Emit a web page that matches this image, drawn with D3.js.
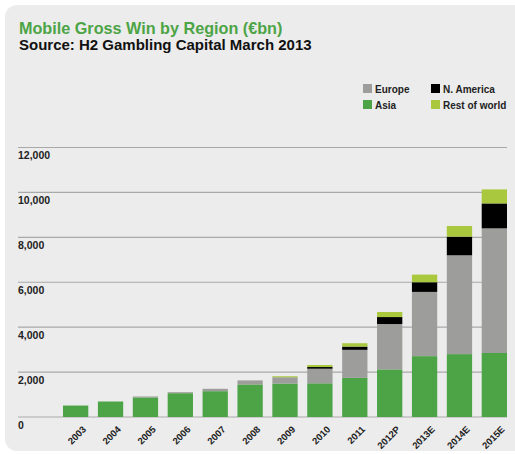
<!DOCTYPE html>
<html>
<head>
<meta charset="utf-8">
<script src="https://cdn.jsdelivr.net/npm/d3@7"></script>
<style>
  body { margin: 0; background: #fff; }
  text { font-family: "Liberation Sans", Arial, sans-serif; font-weight: bold; }
</style>
</head>
<body>
<svg width="515" height="454"></svg>
<script>
  'use strict';

  // data (€m)
  const years = ['2003', '2004', '2005', '2006', '2007', '2008', '2009', '2010', '2011', '2012P', '2013E', '2014E', '2015E'];
  const asia     = [510, 690, 870, 1060, 1150, 1450, 1490, 1500, 1740, 2120, 2710, 2800, 2850];
  const europe   = [0, 0, 45, 45, 105, 180, 280, 650, 1250, 2020, 2860, 4400, 5550];
  const nAmerica = [0, 0, 0, 0, 0, 0, 0, 75, 145, 310, 430, 830, 1110];
  const rest     = [0, 0, 0, 0, 0, 0, 45, 90, 150, 225, 340, 475, 625];
  const yTicks = [0, 2000, 4000, 6000, 8000, 10000, 12000];

  const seriesKeys = ['Asia', 'Europe', 'N. America', 'Rest of world'];
  const colors = {'Asia': '#4ca446', 'Europe': '#9d9d9b', 'N. America': '#000000', 'Rest of world': '#a9c83d'};

  const table = years.map((y, i) => ({
    year: y, 'Asia': asia[i], 'Europe': europe[i], 'N. America': nAmerica[i], 'Rest of world': rest[i]
  }));

  const svg = d3.select('svg');

  // panel
  svg.append('rect')
      .attr('x', 5).attr('y', 5)
      .attr('width', 522).attr('height', 446)
      .attr('rx', 12)
      .attr('fill', '#ececec');

  svg.append('text')
      .attr('x', 19).attr('y', 34)
      .attr('fill', '#4ca446')
      .style('font-size', '16.2px')
      .text('Mobile Gross Win by Region (€bn)');

  svg.append('text')
      .attr('x', 19).attr('y', 50)
      .attr('fill', '#111')
      .style('font-size', '15px')
      .text('Source: H2 Gambling Capital March 2013');

  const x = d3.scaleBand().domain(years).range([63, 507]).paddingInner(0.275).paddingOuter(0);
  const y = d3.scaleLinear().domain([0, 12000]).range([417, 147.5]);

  // grid + labels
  const grid = svg.append('g');
  grid.selectAll('line').data(yTicks).enter().append('line')
      .attr('x1', 18).attr('x2', 507)
      .attr('y1', d => y(d)).attr('y2', d => y(d))
      .attr('stroke', '#a9a9a9').attr('stroke-width', 1.2);
  grid.selectAll('text').data(yTicks).enter().append('text')
      .attr('x', 18).attr('y', d => y(d) + 11.5)
      .attr('fill', '#222')
      .style('font-size', '10.5px')
      .text(d => d3.format(',')(d));

  // bars
  const stacked = d3.stack().keys(seriesKeys)(table);
  svg.append('g').selectAll('g').data(stacked).enter().append('g')
      .attr('fill', d => colors[d.key])
    .selectAll('rect').data(d => d).enter().append('rect')
      .attr('x', d => x(d.data.year))
      .attr('width', x.bandwidth())
      .attr('y', d => y(d[1]))
      .attr('height', d => Math.max(0, y(d[0]) - y(d[1])));

  // x labels
  svg.append('g').selectAll('text').data(years).enter().append('text')
      .attr('transform', d => `translate(${x(d) + x.bandwidth() / 2 + 11},${430}) rotate(-45)`)
      .attr('text-anchor', 'end')
      .attr('fill', '#222')
      .style('font-size', '9.5px')
      .text(d => d);

  // legend
  const legend = [
    {key: 'Europe', x: 363, y: 84},
    {key: 'N. America', x: 431, y: 84},
    {key: 'Asia', x: 363, y: 100},
    {key: 'Rest of world', x: 431, y: 100}
  ];
  const lg = svg.append('g').selectAll('g').data(legend).enter().append('g')
      .attr('transform', d => `translate(${d.x},${d.y})`);
  lg.append('rect')
      .attr('width', 9).attr('height', 9)
      .attr('fill', d => colors[d.key]);
  lg.append('text')
      .attr('x', 12).attr('y', 8.5)
      .attr('fill', '#222')
      .style('font-size', '10px')
      .text(d => d.key);
</script>
</body>
</html>
